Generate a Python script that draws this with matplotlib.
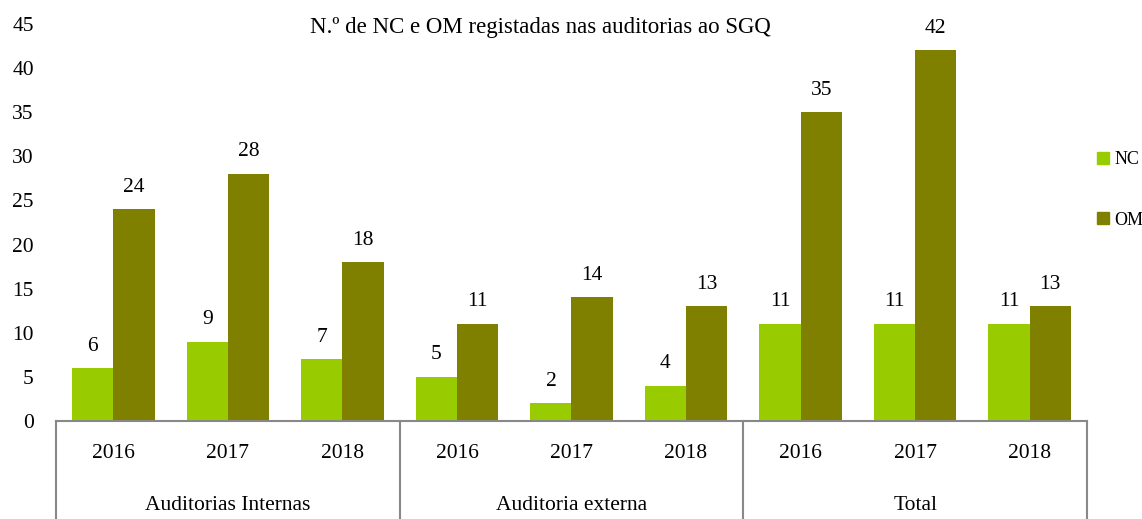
import matplotlib
matplotlib.use("Agg")
import matplotlib.pyplot as plt
from matplotlib.lines import Line2D
from matplotlib.patches import Patch
import matplotlib.transforms as mtransforms
import numpy as np

plt.rcParams['font.family'] = ['Liberation Serif', 'DejaVu Serif']

groups = ["Auditorias Internas", "Auditoria externa", "Total"]
years = ["2016", "2017", "2018"]
nc = [6, 9, 7, 5, 2, 4, 11, 11, 11]
om = [24, 28, 18, 11, 14, 13, 35, 42, 13]
title = "N.º de NC e OM registadas nas auditorias ao SGQ"

c_nc = "#99CC00"
c_om = "#808000"

fig = plt.figure(figsize=(11.42, 5.19), dpi=100)
ax = fig.add_axes([56/1142, (519-421)/519, (1087-56)/1142, (421-24)/519])

x = np.arange(len(nc))
w = 0.36
b1 = ax.bar(x - w/2, nc, w, color=c_nc, label="NC")
b2 = ax.bar(x + w/2, om, w, color=c_om, label="OM")

for bars, vals in ((b1, nc), (b2, om)):
    for r, v in zip(bars, vals):
        ax.annotate(str(v), (r.get_x() + r.get_width()/2, v), xytext=(0, 9),
                    textcoords="offset points", ha="center", va="bottom", fontsize=15.5)

ax.set_xlim(-0.5, len(nc) - 0.5)
ax.set_ylim(0, 45)
ax.set_yticks(range(0, 46, 5))
ax.tick_params(axis='y', length=0, labelsize=15.5, pad=16)
ax.tick_params(axis='x', length=0, labelbottom=False)
for s in ("top", "right", "left"):
    ax.spines[s].set_visible(False)
ax.spines["bottom"].set_color("#888888")
ax.spines["bottom"].set_linewidth(1.5)

trans = mtransforms.blended_transform_factory(ax.transData, ax.transAxes)
ybot = -98/397
for i, yr in enumerate(years * len(groups)):
    ax.text(i, -32/397, yr, transform=trans, ha="center", va="center", fontsize=15.5, clip_on=False)
for g, name in enumerate(groups):
    ax.text(g*3 + 1, -84/397, name, transform=trans, ha="center", va="center", fontsize=15.5, clip_on=False)
for xs in [-0.5, 2.5, 5.5, 8.5]:
    ax.add_line(Line2D([xs, xs], [0, ybot], transform=trans, color="#888888", lw=1.5, clip_on=False))

fig.text(540/1142, 1 - 27/519, title, fontsize=16.5, ha="center", va="center")

handles = [Patch(color=c_nc, label="NC"), Patch(color=c_om, label="OM")]
fig.legend(handles=handles, loc="center left", bbox_to_anchor=(1097/1142, 1 - 190/519),
           frameon=False, fontsize=13, handlelength=0.65, handleheight=0.65,
           handletextpad=0.3, labelspacing=2.4, borderpad=0, borderaxespad=0)

fig.savefig("out.png", dpi=100)
